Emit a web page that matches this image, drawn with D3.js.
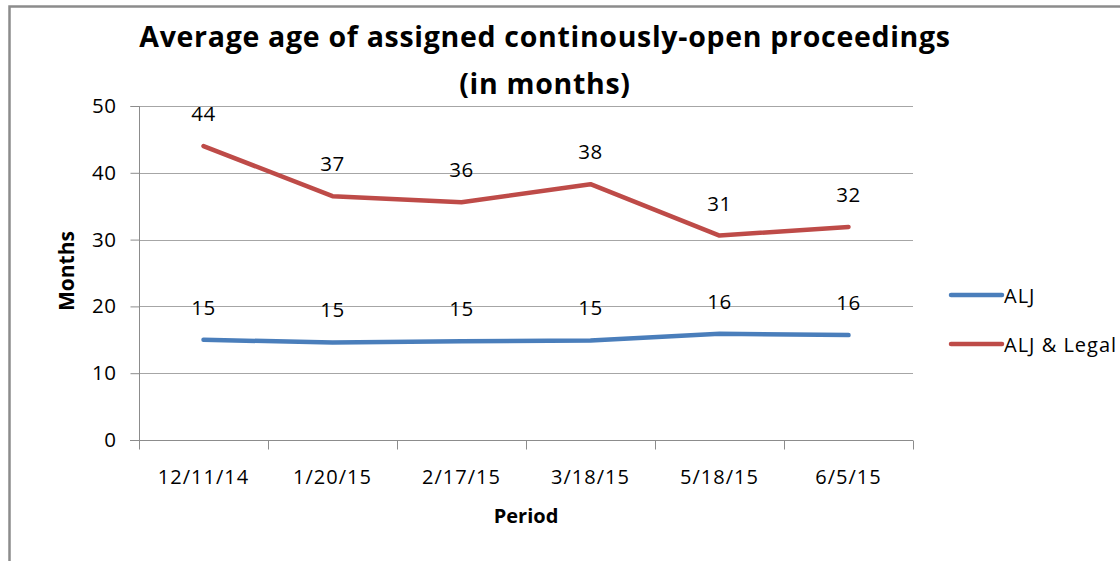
<!DOCTYPE html>
<html>
<head>
<meta charset="utf-8">
<script src="https://cdn.jsdelivr.net/npm/d3@7"></script>
<style>
  body { margin: 0; background: #fff; }
  svg text { font-family: "Open Sans", "Liberation Sans", sans-serif; fill: #000; }
</style>
</head>
<body>
<div id="chart"></div>
<script>
// data
var periods = ["12/11/14", "1/20/15", "2/17/15", "3/18/15", "5/18/15", "6/5/15"];
var aljValues = [15.0, 14.6, 14.8, 14.9, 15.9, 15.7];
var aljLegalValues = [44.0, 36.5, 35.6, 38.3, 30.6, 31.9];
var seriesNames = ["ALJ", "ALJ & Legal"];
var seriesColors = ["#4a7ebb", "#be4b48"];
var yTicks = [0, 10, 20, 30, 40, 50];

var W = 1120, H = 561;
var margin = {top: 106, right: 207, bottom: 121, left: 139},
    width = W - margin.left - margin.right,
    height = H - margin.top - margin.bottom;

var svg = d3.select("#chart")
  .append("svg")
    .attr("width", W)
    .attr("height", H);

// outer chart border (only left and top visible)
svg.append("path")
  .attr("d", "M9.5," + H + "V6.5H" + W)
  .attr("fill", "none")
  .attr("stroke", "#8c8c8c")
  .attr("stroke-width", 2.5);

var g = svg.append("g")
  .attr("transform", "translate(" + margin.left + "," + margin.top + ")");

var x = d3.scaleBand()
  .domain(periods)
  .range([0, width]);

var y = d3.scaleLinear()
  .domain([0, 50])
  .range([height, 0]);

// gridlines
g.append("g")
  .selectAll("line")
  .data(yTicks.filter(function(d) { return d > 0; }))
  .enter()
  .append("line")
    .attr("x1", 0)
    .attr("x2", width)
    .attr("y1", function(d) { return Math.round(y(d)) + 0.5; })
    .attr("y2", function(d) { return Math.round(y(d)) + 0.5; })
    .attr("stroke", "#a6a6a6")
    .attr("stroke-width", 1);

// Y axis
var yAxis = g.append("g")
  .attr("transform", "translate(0.5,0)")
  .call(d3.axisLeft(y).tickValues(yTicks).tickSize(9).tickPadding(14));
yAxis.select(".domain").attr("stroke", "#8c8c8c").attr("d", "M-9," + (height + 0.5) + "H0V0.5H-9");
yAxis.selectAll(".tick line").attr("stroke", "#8c8c8c");
yAxis.selectAll(".tick text")
  .style("font-size", "20.5px")
  .style("letter-spacing", "0.5px")
  .attr("fill", "#000");

// X axis: line plus ticks at band edges
var xAxis = g.append("g")
  .attr("transform", "translate(0," + (height + 0.5) + ")");
xAxis.append("line")
  .attr("x1", -9).attr("x2", width)
  .attr("stroke", "#8c8c8c");
var edges = periods.map(function(p) { return x(p); }).concat([x(periods[periods.length - 1]) + x.bandwidth()]);
xAxis.selectAll(".edge")
  .data(edges)
  .enter()
  .append("line")
    .attr("class", "edge")
    .attr("x1", function(d) { return Math.round(d) + 0.5; })
    .attr("x2", function(d) { return Math.round(d) + 0.5; })
    .attr("y1", 0).attr("y2", 9)
    .attr("stroke", "#8c8c8c");
xAxis.selectAll(".lbl")
  .data(periods)
  .enter()
  .append("text")
    .attr("class", "lbl")
    .attr("x", function(d) { return x(d) + x.bandwidth() / 2; })
    .attr("y", 43)
    .attr("text-anchor", "middle")
    .style("font-size", "20px")
    .style("letter-spacing", "1px")
    .text(function(d) { return d; });

// lines + data labels
var series = [aljValues, aljLegalValues];
var line = d3.line()
  .x(function(d, i) { return x(periods[i]) + x.bandwidth() / 2; })
  .y(function(d) { return y(d); });

series.forEach(function(vals, s) {
  g.append("path")
    .datum(vals)
    .attr("fill", "none")
    .attr("stroke", seriesColors[s])
    .attr("stroke-width", 4.5)
    .attr("stroke-linejoin", "round")
    .attr("stroke-linecap", "round")
    .attr("d", line);

  g.append("g")
    .selectAll("text")
    .data(vals)
    .enter()
    .append("text")
      .attr("x", function(d, i) { return x(periods[i]) + x.bandwidth() / 2; })
      .attr("y", function(d) { return y(d) - 25; })
      .attr("text-anchor", "middle")
      .style("font-size", "20.5px")
      .style("letter-spacing", "0.5px")
      .text(function(d) { return Math.round(d); });
});

// title
var title = svg.append("text")
  .attr("x", 545)
  .attr("text-anchor", "middle")
  .style("font-size", "28.5px")
  .style("font-weight", "bold")
  .style("letter-spacing", "0.7px");
title.append("tspan").attr("x", 545).attr("y", 47).text("Average age of assigned continously-open proceedings");
title.append("tspan").attr("x", 545).attr("y", 94).text("(in months)");

// axis titles
svg.append("text")
  .attr("x", margin.left + width / 2)
  .attr("y", 523)
  .attr("text-anchor", "middle")
  .style("font-size", "20px")
  .style("font-weight", "bold")
  .text("Period");

svg.append("text")
  .attr("transform", "translate(74," + 271 + ") rotate(-90)")
  .attr("text-anchor", "middle")
  .style("font-size", "21px")
  .style("font-weight", "bold")
  .text("Months");

// legend
var legend = svg.append("g")
  .attr("transform", "translate(951,295)");
var items = legend.selectAll("g")
  .data(seriesNames)
  .enter()
  .append("g")
    .attr("transform", function(d, i) { return "translate(0," + (i * 49) + ")"; });
items.append("line")
  .attr("x1", 0).attr("x2", 51)
  .attr("stroke", function(d, i) { return seriesColors[i]; })
  .attr("stroke-width", 4.5)
  .attr("stroke-linecap", "round");
items.append("text")
  .attr("x", 53)
  .attr("y", 8)
  .style("font-size", "20px")
  .style("letter-spacing", "1px")
  .text(function(d) { return d; });
</script>
</body>
</html>
